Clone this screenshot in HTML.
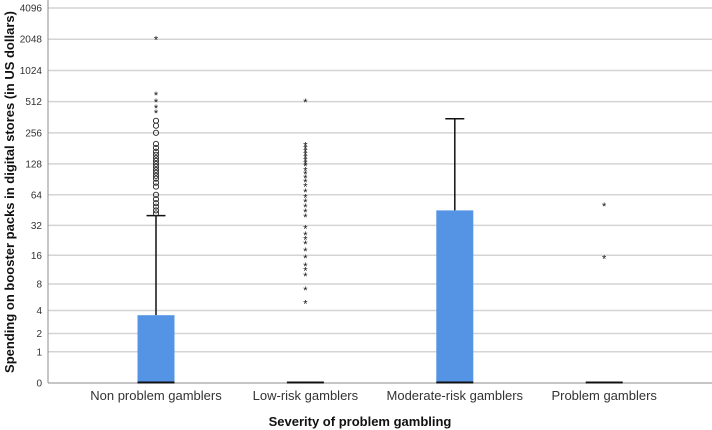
<!DOCTYPE html>
<html><head><meta charset="utf-8">
<style>
html,body{margin:0;padding:0;background:#fff;}
svg{display:block;font-family:"Liberation Sans",sans-serif;}
</style></head>
<body>
<svg id="chart" width="712" height="430" viewBox="0 0 712 430">
<text x="14" y="192" transform="rotate(-90 14 192)" text-anchor="middle" font-size="13" font-weight="bold" fill="#111">Spending on booster packs in digital stores (in US dollars)</text>
<text x="360" y="426" text-anchor="middle" font-size="13" font-weight="bold" fill="#111">Severity of problem gambling</text>
</svg>
<script>
const categories = ["Non problem gamblers","Low-risk gamblers","Moderate-risk gamblers","Problem gamblers"];
const yTicks = [0,1,2,4,8,16,32,64,128,256,512,1024,2048,4096];
const boxLow = [0,0,0,0];
const boxHigh = [3.5,0,45,0];
const whiskerHigh = [40,0,350,0];
const circleOutliers0 = [335,300,256,200,183,168,157,146,137,128,120,112,105,98,92,84,77,64,58,53,49,45,42];
const starOutliers0 = [2048,600,512,449,401];
const starOutliers1 = [512,196,183,171,160,150,140,131,123,112,103,94,86,78,69,61,55,49,44,39,30,26,23.4,21,17.9,15.2,12.5,11.3,9.8,7,4.9];
const starOutliers3 = [50,15];

const svg = document.getElementById('chart');
const NS = 'http://www.w3.org/2000/svg';
const X0 = 48, X1 = 712, Y0 = 383;
function yScale(v){ return Y0 - 31.25*Math.log2(v+1); }
function xScale(i){ return 156 + i*149.4; }
function mk(tag, attrs){ const e=document.createElementNS(NS,tag); for(const k in attrs) e.setAttribute(k,attrs[k]); svg.appendChild(e); return e; }

yTicks.forEach(t=>{
  const y = yScale(t);
  if(t>0){
    const g = mk('line',{x1:X0,x2:X1,y1:y,y2:y,stroke:'#d4d4d4','stroke-width':1.5});
    
    
  }
  const lb = mk('text',{x:42,y:y+3.5,'text-anchor':'end','font-size':10,fill:'#333'});
  lb.textContent = t;
  
  
});
const ax = mk('line',{x1:X0,x2:X0,y1:0,y2:Y0,stroke:'#8c8c8c','stroke-width':1});


const bx = mk('line',{x1:X0,x2:X1,y1:Y0,y2:Y0,stroke:'#8c8c8c','stroke-width':1});



categories.forEach((c,i)=>{
  const cx = xScale(i), bw = 37;
  const lb = mk('text',{x:cx,y:400,'text-anchor':'middle','font-size':13,fill:'#333'});
  lb.textContent = c;
  
  
  if(whiskerHigh[i] > boxHigh[i]){
    const w = mk('line',{x1:cx,x2:cx,y1:yScale(boxHigh[i]),y2:yScale(whiskerHigh[i]),stroke:'#111','stroke-width':1.5});
    
    
    const cap = mk('line',{x1:cx-9.5,x2:cx+9.5,y1:yScale(whiskerHigh[i]),y2:yScale(whiskerHigh[i]),stroke:'#111','stroke-width':1.5});
    
    
  }
  if(boxHigh[i] > boxLow[i]){
    const r = mk('rect',{x:cx-bw/2,y:yScale(boxHigh[i]),width:bw,height:yScale(boxLow[i])-yScale(boxHigh[i]),fill:'#5594e4'});
    
    
  }
  const m = mk('line',{x1:cx-bw/2,x2:cx+bw/2,y1:yScale(boxLow[i])-0.5,y2:yScale(boxLow[i])-0.5,stroke:'#111','stroke-width':2});
  
  
});

function stars(arr, i){
  arr.forEach(v=>{
    const t = mk('text',{x:xScale(i),y:yScale(v)+4.5,'text-anchor':'middle','font-size':11,fill:'#111'});
    t.textContent = '*';
    
    
  });
}
circleOutliers0.forEach(v=>{
  const c = mk('circle',{cx:xScale(0),cy:yScale(v),r:2.6,fill:'none',stroke:'#222','stroke-width':0.9});
  
  
});
stars(starOutliers0,0);
stars(starOutliers1,1);
stars(starOutliers3,3);
</script>
</body></html>
